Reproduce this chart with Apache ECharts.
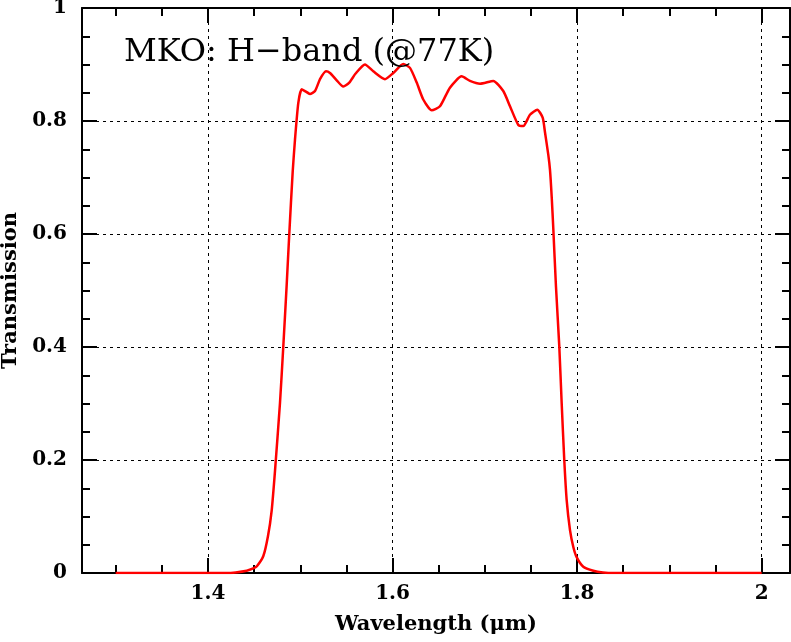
<!DOCTYPE html>
<html>
<head>
<meta charset="utf-8">
<script src="https://cdn.jsdelivr.net/npm/echarts@6/dist/echarts.min.js"></script>
<style>
  html, body { margin: 0; padding: 0; background: #fff; }
  #chart { width: 791px; height: 642px; }
</style>
</head>
<body>
<div id="chart"></div>
<script>
// wavelength (micron) and transmission
var wavelength = [
    1.300, 1.420, 1.430, 1.442, 1.449, 1.453, 1.460, 1.465, 1.469, 1.4726,
    1.478, 1.4816, 1.4853, 1.4881, 1.4918, 1.4943, 1.4979, 1.5015, 1.5051, 1.5105,
    1.5160, 1.5214, 1.5279, 1.5322, 1.5395, 1.5466, 1.5531, 1.5600, 1.5701, 1.5791,
    1.5918, 1.6008, 1.6116, 1.6189, 1.6262, 1.6333, 1.6424, 1.6514, 1.6622, 1.6749,
    1.6839, 1.6948, 1.7092, 1.7200, 1.7273, 1.7363, 1.7417, 1.7489, 1.7569, 1.7627,
    1.7652, 1.7688, 1.7706, 1.7725, 1.7742, 1.7771, 1.7807, 1.7833, 1.7861, 1.7887,
    1.7923, 1.7959, 1.7995, 1.8067, 1.8176, 1.8280, 1.8400, 2.0000
];
var transmission = [
    0.000, 0.000, 0.001, 0.004, 0.008, 0.012, 0.030, 0.065, 0.110, 0.180,
    0.300, 0.400, 0.510, 0.600, 0.710, 0.767, 0.832, 0.856, 0.853, 0.848,
    0.853, 0.874, 0.888, 0.885, 0.872, 0.861, 0.868, 0.884, 0.900, 0.888,
    0.874, 0.885, 0.901, 0.894, 0.868, 0.838, 0.819, 0.826, 0.859, 0.879,
    0.871, 0.866, 0.871, 0.853, 0.826, 0.793, 0.791, 0.811, 0.820, 0.806,
    0.780, 0.740, 0.714, 0.665, 0.610, 0.507, 0.401, 0.300, 0.200, 0.129,
    0.076, 0.046, 0.028, 0.011, 0.004, 0.001, 0.000, 0.000
];

var xMajor = [1.4, 1.6, 1.8, 2.0];
var xMinor = [1.3, 1.35, 1.45, 1.5, 1.55, 1.65, 1.7, 1.75, 1.85, 1.9, 1.95];
var xMin = 1.2635, xMax = 2.0307;

var titleText = 'MKO: H\u2212band (@77K)';

window.onload = function () {
    drawChart();
}

function drawChart() {
    let chart = echarts.init(document.getElementById('chart'));
    let pts = wavelength.map(function (w, i) { return [w, transmission[i]]; });

    let black = '#000';
    let serif = 'DejaVu Serif';

    // an x axis that only draws ticks (inside) at given values
    function xTicks(pos, values, len, withLine) {
        return {
            type: 'value', position: pos, min: xMin, max: xMax,
            axisLine: { show: withLine, onZero: false, lineStyle: { color: black, width: 2 } },
            axisTick: { show: true, inside: true, length: len, customValues: values,
                        lineStyle: { color: black, width: 2 } },
            axisLabel: { show: false },
            splitLine: { show: false }
        };
    }

    let option = {
        backgroundColor: '#fff',
        animation: false,
        title: {
            text: titleText,
            left: 119,
            top: 32,
            textStyle: { fontFamily: serif, fontWeight: 'normal', fontSize: 32, color: black }
        },
        grid: { left: 82, right: 1, top: 8, bottom: 69, outerBoundsMode: 'none' },
        xAxis: [
            {
                type: 'value', position: 'bottom', min: xMin, max: xMax,
                name: 'Wavelength (\u03bcm)', nameLocation: 'middle', nameGap: 41,
                nameTextStyle: { fontFamily: serif, fontWeight: 'bold', fontSize: 21, color: black },
                axisLine: { show: true, onZero: false, lineStyle: { color: black, width: 2 } },
                axisTick: { show: true, inside: true, length: 15, customValues: xMajor,
                            lineStyle: { color: black, width: 2 } },
                axisLabel: {
                    show: true, customValues: xMajor, margin: 11,
                    fontFamily: serif, fontWeight: 'bold', fontSize: 20, color: black,
                    formatter: function (v) { return String(+v.toFixed(2)); }
                },
                splitLine: { show: true, lineStyle: { color: black, width: 1, type: [3, 4] } }
            },
            xTicks('bottom', xMinor, 8, false),
            xTicks('top', xMajor, 15, true),
            xTicks('top', xMinor, 8, false)
        ],
        yAxis: [
            {
                type: 'value', position: 'left', min: 0, max: 1, interval: 0.2,
                name: 'Transmission', nameLocation: 'middle', nameGap: 60,
                nameTextStyle: { fontFamily: serif, fontWeight: 'bold', fontSize: 21, color: black },
                axisLine: { show: true, lineStyle: { color: black, width: 2 } },
                axisTick: { show: true, inside: true, length: 15, lineStyle: { color: black, width: 2 } },
                minorTick: { show: true, splitNumber: 4, length: 8, lineStyle: { color: black, width: 2 } },
                axisLabel: {
                    margin: 15, fontFamily: serif, fontWeight: 'bold', fontSize: 20, color: black,
                    formatter: function (v) { return String(+v.toFixed(1)); }
                },
                splitLine: {
                    show: true,
                    lineStyle: { color: black, width: 1, type: [3, 4] }
                }
            },
            {
                type: 'value', position: 'right', min: 0, max: 1, interval: 0.2,
                axisLine: { show: true, lineStyle: { color: black, width: 2 } },
                axisTick: { show: true, inside: true, length: 15, lineStyle: { color: black, width: 2 } },
                minorTick: { show: true, splitNumber: 4, length: 8, lineStyle: { color: black, width: 2 } },
                axisLabel: { show: false },
                splitLine: { show: false }
            }
        ],
        series: [
            {
                type: 'line',
                data: pts,
                xAxisIndex: 0,
                yAxisIndex: 0,
                showSymbol: false,
                smooth: 0.2,
                lineStyle: { color: '#ff0000', width: 2.5 },
                z: 5
            }
        ]
    };

    chart.setOption(option);
    return chart;
}
</script>
</body>
</html>
